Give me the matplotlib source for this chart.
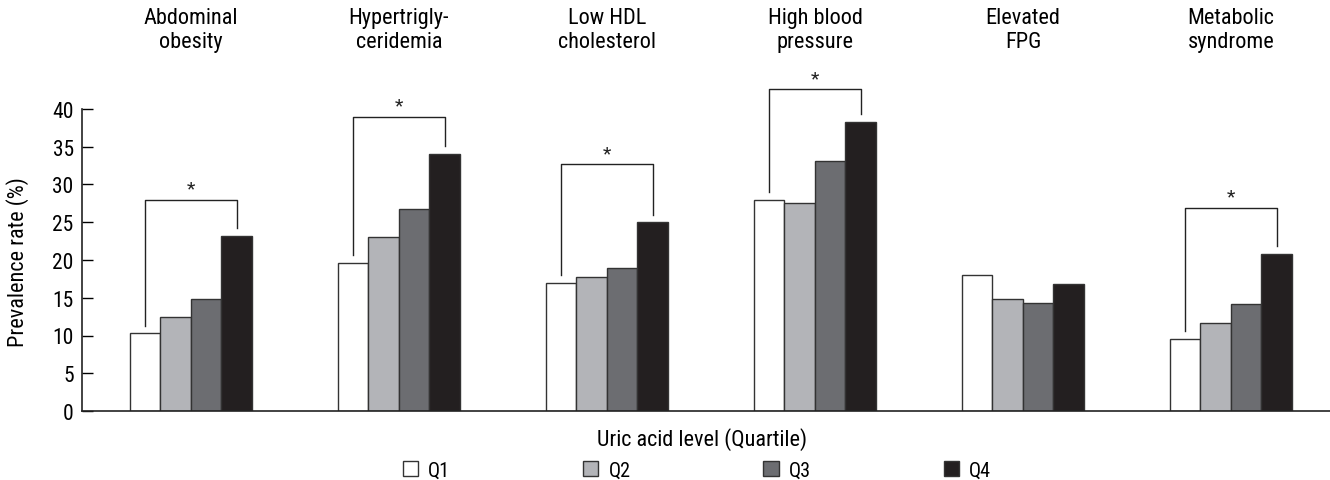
import matplotlib
matplotlib.use("Agg")
import matplotlib.pyplot as plt
from matplotlib.patches import Patch
import numpy as np

# condensed look if any such family is installed
plt.rcParams["font.family"] = ["Liberation Sans Narrow", "Roboto Condensed", "Liberation Sans", "DejaVu Sans"]

# data
categories = ["Abdominal\nobesity", "Hypertrigly-\nceridemia", "Low HDL\ncholesterol",
              "High blood\npressure", "Elevated\nFPG", "Metabolic\nsyndrome"]
quartiles = ["Q1", "Q2", "Q3", "Q4"]
q1 = [10.3, 19.6, 17.0, 28.0, 18.0, 9.6]
q2 = [12.4, 23.0, 17.7, 27.5, 14.8, 11.6]
q3 = [14.9, 26.8, 19.0, 33.1, 14.3, 14.2]
q4 = [23.2, 34.1, 25.0, 38.3, 16.8, 20.8]
# significance brackets (Q1 vs Q4): group index and bracket height
sig_groups = [0, 1, 2, 3, 5]
sig_top = [28.0, 39.0, 32.7, 42.6, 26.9]

colors = ["white", "#b3b4b8", "#6c6d71", "#231f20"]
series = [q1, q2, q3, q4]

fig = plt.figure(figsize=(13.3, 4.81), dpi=100)
ax = fig.add_axes([82 / 1330, 69 / 481, 1248 / 1330, 302 / 481])

x = np.arange(len(categories))
w = 0.1466
offsets = (np.arange(4) - 1.5) * w
for vals, col, off in zip(series, colors, offsets):
    ax.bar(x + off, vals, width=w, color=col, edgecolor="#333333", linewidth=1.0, zorder=2)

# brackets
gap = 1.0
for g, top in zip(sig_groups, sig_top):
    xl = x[g] + offsets[0]
    xr = x[g] + offsets[3]
    ax.plot([xl, xl, xr, xr], [q1[g] + gap, top, top, q4[g] + gap],
            color="#222222", linewidth=1.0, clip_on=False)
    ax.text((xl + xr) / 2, top + 0.3, "*", ha="center", va="bottom",
            fontsize=14, color="#222222", clip_on=False)

ax.set_xlim(-0.524, 5.476)
ax.set_ylim(0, 40)
ax.set_yticks(np.arange(0, 41, 5))
ax.set_xticks([])
ax.tick_params(axis="y", direction="in", length=8, width=1, labelsize=15.5, pad=6)
for s in ["top", "right"]:
    ax.spines[s].set_visible(False)
for s in ["left", "bottom"]:
    ax.spines[s].set_linewidth(1.2)
    ax.spines[s].set_color("#222222")

# category labels on top
for xi, cat in zip(x, categories):
    ax.text(xi, 1.262, cat, transform=ax.get_xaxis_transform(), ha="center", va="center",
            fontsize=16, linespacing=1.2, multialignment="center")

fig.text(18 / 1330, 1 - 262 / 481, "Prevalence rate (%)", rotation=90, ha="center", va="center",
         fontsize=16)
fig.text(702 / 1330, 1 - 440 / 481, "Uric acid level (Quartile)", ha="center", va="center",
         fontsize=16)

handles = [Patch(facecolor=c, edgecolor="#333333", linewidth=1.0) for c in colors]
fig.legend(handles, quartiles, loc="center", bbox_to_anchor=(697 / 1330, 1 - 471 / 481),
           ncol=4, frameon=False, fontsize=14.5, handlelength=0.75, handleheight=0.75,
           handletextpad=0.5, columnspacing=6.6, borderpad=0, borderaxespad=0)

fig.savefig("out.png", dpi=100)
